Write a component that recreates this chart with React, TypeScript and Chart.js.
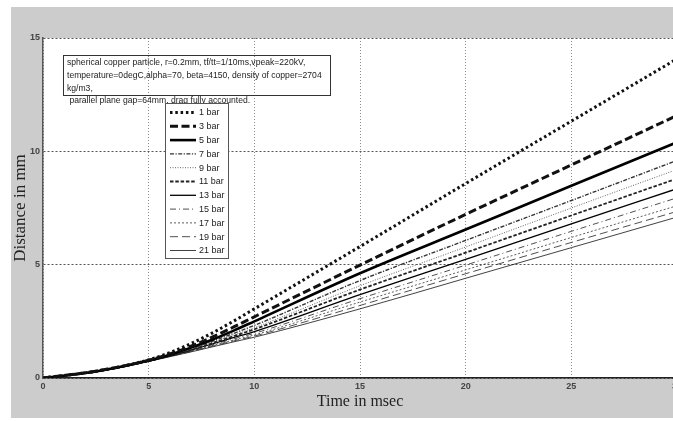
import React, { useEffect, useRef } from "react";
import { Chart, registerables } from "chart.js";

Chart.register(...registerables);

// ---- data ----
const timeMs = [0, 2.5, 5, 6, 7, 8, 9, 10, 15, 20, 25, 30];
const pressureLabels = ["1 bar", "3 bar", "5 bar", "7 bar", "9 bar", "11 bar", "13 bar", "15 bar", "17 bar", "19 bar", "21 bar"];
const bar1 = [0, 0.3, 0.8, 1.12, 1.52, 1.98, 2.5, 3.05, 5.8, 8.58, 11.33, 14.08];
const bar3 = [0, 0.3, 0.78, 1.06, 1.4, 1.8, 2.24, 2.7, 4.98, 7.22, 9.4, 11.58];
const bar5 = [0, 0.29, 0.77, 1.03, 1.34, 1.69, 2.08, 2.5, 4.62, 6.55, 8.48, 10.4];
const bar7 = [0, 0.29, 0.76, 1.01, 1.3, 1.62, 1.96, 2.32, 4.3, 6.07, 7.83, 9.6];
const bar9 = [0, 0.29, 0.76, 1.0, 1.27, 1.57, 1.89, 2.22, 4.07, 5.78, 7.5, 9.2];
const bar11 = [0, 0.28, 0.75, 0.99, 1.25, 1.54, 1.84, 2.15, 3.9, 5.53, 7.17, 8.8];
const bar13 = [0, 0.28, 0.75, 0.98, 1.23, 1.5, 1.78, 2.05, 3.68, 5.23, 6.8, 8.35];
const bar15 = [0, 0.28, 0.75, 0.97, 1.21, 1.46, 1.72, 1.97, 3.5, 4.98, 6.47, 7.95];
const bar17 = [0, 0.28, 0.74, 0.96, 1.19, 1.43, 1.67, 1.9, 3.35, 4.77, 6.2, 7.6];
const bar19 = [0, 0.28, 0.74, 0.95, 1.17, 1.4, 1.63, 1.85, 3.2, 4.6, 5.98, 7.35];
const bar21 = [0, 0.27, 0.73, 0.94, 1.15, 1.37, 1.59, 1.8, 3.05, 4.4, 5.75, 7.1];
const seriesValues = [bar1, bar3, bar5, bar7, bar9, bar11, bar13, bar15, bar17, bar19, bar21];

const xTicks = [0, 5, 10, 15, 20, 25, 30];
const yTicks = [0, 5, 10, 15];

const annotationLines = [
  "spherical copper particle, r=0.2mm, tf/tt=1/10ms,vpeak=220kV,",
  "temperature=0degC,alpha=70, beta=4150, density of copper=2704",
  "kg/m3,",
];
const annotationExtra = " parallel plane gap=64mm, drag fully accounted.";

// ---- styles ----
const lineStyles = [
  { width: 3, dash: [2.5, 2.8], color: "#111" },
  { width: 3, dash: [8, 3.5], color: "#111" },
  { width: 2.6, dash: [], color: "#000" },
  { width: 1.4, dash: [4, 1.5, 1.2, 1.5], color: "#333" },
  { width: 1, dash: [1, 1.5], color: "#666" },
  { width: 1.8, dash: [3.5, 1.8], color: "#222" },
  { width: 1.3, dash: [], color: "#000" },
  { width: 0.8, dash: [6, 3, 1, 3], color: "#222" },
  { width: 0.8, dash: [2, 2], color: "#333" },
  { width: 0.8, dash: [8, 4], color: "#222" },
  { width: 0.8, dash: [], color: "#111" },
];

const tickFont = { family: "'Liberation Sans', Arial, sans-serif", size: 9, weight: "bold" as const };

const backgroundPlugin = {
  id: "bgPanel",
  beforeDraw(chart: any) {
    const { ctx, width, height, chartArea } = chart;
    ctx.save();
    ctx.fillStyle = "#ffffff";
    ctx.fillRect(0, 0, width, height);
    ctx.fillStyle = "#cccccc";
    ctx.fillRect(11, 7, width - 11, 411);
    ctx.fillStyle = "#ffffff";
    ctx.fillRect(chartArea.left, chartArea.top, chartArea.right - chartArea.left, chartArea.bottom - chartArea.top);
    ctx.restore();
  },
};

const overlayPlugin = {
  id: "overlayBoxes",
  afterDraw(chart: any) {
    const { ctx } = chart;
    ctx.save();
    // annotation box (transparent)
    ctx.strokeStyle = "#333";
    ctx.lineWidth = 1;
    ctx.setLineDash([]);
    ctx.strokeRect(63.5, 55.5, 267, 40);
    ctx.fillStyle = "#222";
    ctx.font = "8.6px 'Liberation Sans', Arial, sans-serif";
    ctx.textBaseline = "middle";
    ctx.textAlign = "left";
    annotationLines.forEach((t, i) => ctx.fillText(t, 67, 62.5 + i * 13));
    ctx.fillText(annotationExtra, 67, 100.5);

    // legend box
    ctx.fillStyle = "#ffffff";
    ctx.fillRect(165, 103, 63, 155);
    ctx.strokeStyle = "#555";
    ctx.strokeRect(165.5, 103.5, 63, 155);
    const ds = chart.data.datasets;
    ds.forEach((d: any, i: number) => {
      const y = 112.5 + i * 13.8;
      ctx.beginPath();
      ctx.lineWidth = d.borderWidth;
      ctx.strokeStyle = d.borderColor;
      ctx.setLineDash(d.borderDash || []);
      ctx.moveTo(170, y);
      ctx.lineTo(196, y);
      ctx.stroke();
      ctx.setLineDash([]);
      ctx.fillStyle = "#222";
      ctx.font = "9px 'Liberation Sans', Arial, sans-serif";
      ctx.fillText(d.label, 199, y + 0.5);
    });
    ctx.restore();
  },
};

export default function App() {
  const ref = useRef<HTMLCanvasElement | null>(null);

  useEffect(() => {
    if (!ref.current) return;
    const datasets = pressureLabels.map((label, i) => ({
      label,
      data: timeMs.map((t, j) => ({ x: t, y: seriesValues[i][j] })),
      borderColor: lineStyles[i].color,
      borderWidth: lineStyles[i].width,
      borderDash: lineStyles[i].dash,
      pointRadius: 0,
      fill: false,
      cubicInterpolationMode: "monotone" as const,
    }));
    const chart = new Chart(ref.current, {
      type: "line",
      data: { datasets },
      plugins: [backgroundPlugin, overlayPlugin],
      options: {
        responsive: false,
        animation: false,
        layout: { padding: { left: 0, top: 38, right: 23, bottom: 0 } },
        plugins: { legend: { display: false }, tooltip: { enabled: false } },
        scales: {
          x: {
            type: "linear",
            min: 0,
            max: 30,
            afterFit: (s: any) => {
              s.height = 43;
            },
            afterBuildTicks: (s: any) => {
              s.ticks = xTicks.map((v) => ({ value: v }));
            },
            ticks: { font: tickFont, color: "#444", padding: 3, autoSkip: false, maxRotation: 0 },
            grid: { color: "#8c8c8c", lineWidth: 1, drawTicks: false },
            border: { display: true, color: "#222", width: 1.5, dash: [1, 2] },
            title: {
              display: true,
              text: "Time in msec",
              color: "#222",
              font: { family: "'Liberation Serif', 'Times New Roman', serif", size: 16 },
              padding: { top: 0, bottom: 10 },
            },
          },
          y: {
            type: "linear",
            min: 0,
            max: 15,
            afterFit: (s: any) => {
              s.width = 43;
            },
            afterBuildTicks: (s: any) => {
              s.ticks = yTicks.map((v) => ({ value: v }));
            },
            ticks: { font: tickFont, color: "#444", padding: 3, autoSkip: false },
            grid: { color: "#555", lineWidth: 1, drawTicks: false },
            border: { display: true, color: "#555", width: 1.5, dash: [2, 2] },
            title: {
              display: true,
              text: "Distance in mm",
              color: "#222",
              font: { family: "'Liberation Serif', 'Times New Roman', serif", size: 17 },
              padding: { top: 10, bottom: 0 },
            },
          },
        },
      },
    } as any);
    return () => chart.destroy();
  }, []);

  return (
    <div style={{ position: "fixed", left: 0, top: 0, right: 0, bottom: 0, overflow: "hidden", background: "#fff" }}>
      <canvas ref={ref} width={700} height={421} style={{ position: "absolute", left: 0, top: 0, width: 700, height: 421 }} />
    </div>
  );
}
